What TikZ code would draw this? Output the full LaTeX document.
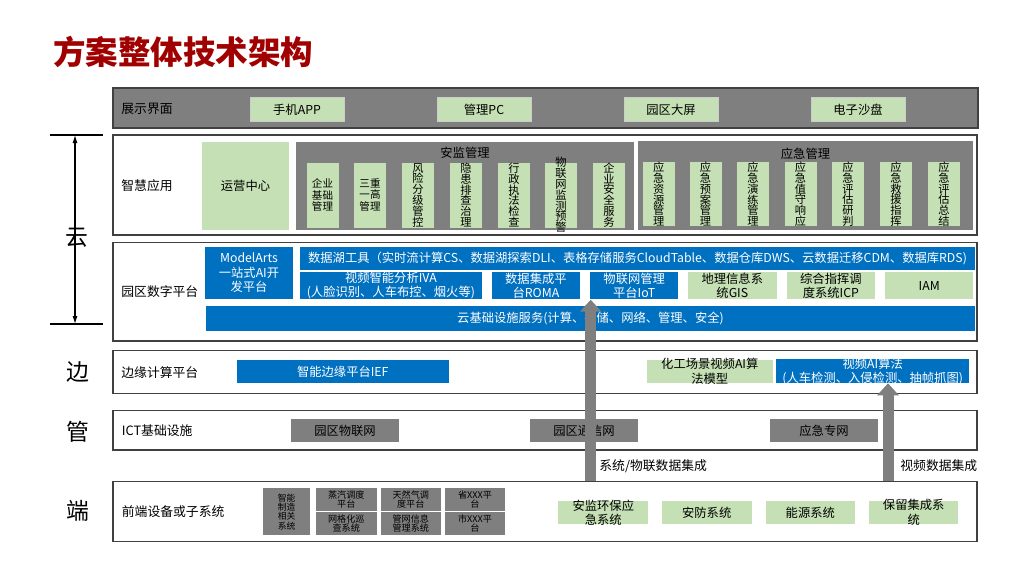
\documentclass[tikz,border=0pt]{standalone}
\usepackage{fontspec}
\setmainfont{Noto Sans CJK SC}
\usetikzlibrary{arrows,arrows.meta,positioning}

\definecolor{ablue}{HTML}{0070C0}
\definecolor{agreen}{HTML}{C5E0B4}
\definecolor{agray}{HTML}{7F7F7F}
\definecolor{ared}{HTML}{A00000}

\tikzset{
  boxsize/.style 2 args={minimum width=#1*0.02cm, minimum height=#2*0.02cm},
  layer/.style={draw=black!75, fill=white, line width=0.7pt, inner sep=0pt},
  layertext/.style={anchor=west, inner sep=0pt, font=\fontsize{7.3}{8}\selectfont},
  greenbox/.style={fill=agreen, inner sep=0pt, align=center, font=\fontsize{7}{8.2}\selectfont},
  bluebox/.style={fill=ablue, text=white, inner sep=0pt, align=center, font=\fontsize{7}{8.2}\selectfont},
  graybox/.style={fill=agray, inner sep=0pt, align=center, font=\fontsize{7}{8.2}\selectfont},
  subbox/.style={greenbox, draw=black!50, line width=0.3pt, boxsize={33}{66},
    font={\fontsize{6.4}{6.15}\selectfont\lineskiplimit=-5pt}},
  tinybox/.style={graybox, font={\fontsize{5.2}{5}\selectfont\lineskiplimit=-5pt}},
  overtext/.style={inner sep=0pt, align=center, font=\fontsize{7}{8}\selectfont},
  sidechar/.style={inner sep=0pt, font=\fontsize{13}{13}\selectfont},
  flow/.style={draw=agray, line width=0.22cm, -{Triangle[width=0.42cm,length=0.24cm]}}
}

\begin{document}
\begin{tikzpicture}[x=0.02cm, y=-0.02cm]
\useasboundingbox (0,0) rectangle (1024,576);

% title
\node[anchor=west, inner sep=0pt, text=ared, font=\fontsize{18.5}{18.5}\selectfont\bfseries] (title) at (53,52) {方案整体技术架构};

% layers
\node[layer, fill=agray, boxsize={865}{40}] (show) at (545.5,108) {};
\node[layer, boxsize={864}{100}] (smart) at (545,185) {};
\node[layer, boxsize={864}{98.5}] (park) at (545,291.8) {};
\node[layer, boxsize={864}{42.5}] (edge) at (545,372) {};
\node[layer, boxsize={864}{39.3}] (ict) at (545,430.3) {};
\node[layer, boxsize={864}{60}] (front) at (545,511.7) {};

\node[layertext] (show-l) at (121,109) {展示界面};
\node[layertext] (smart-l) at (121,186) {智慧应用};
\node[layertext] (park-l) at (121,292) {园区数字平台};
\node[layertext] (edge-l) at (121,372.7) {边缘计算平台};
\node[layertext] (ict-l) at (121.5,430.7) {ICT基础设施};
\node[layertext] (front-l) at (121.5,511.7) {前端设备或子系统};

% cloud / edge / pipe / end
\coordinate (cloudtop) at (75,135);
\coordinate (cloudbot) at (75,324);
\draw[line width=0.6pt] ([xshift=-0.5cm]cloudtop) -- ([xshift=0.56cm]cloudtop);
\draw[line width=0.6pt] ([xshift=-0.5cm]cloudbot) -- ([xshift=0.56cm]cloudbot);
\draw[line width=0.6pt, {Latex[length=0.16cm,width=0.1cm]}-{Latex[length=0.16cm,width=0.1cm]}] (cloudtop) -- (cloudbot);
\node[sidechar] (yun) at (77,238) {云};
\node[sidechar] (bian) at (78,372) {边};
\node[sidechar] (guan) at (78,432) {管};
\node[sidechar] (duan) at (78,511) {端};

% show
\node[greenbox, draw=black!20, line width=0.3pt, boxsize={94}{24.5}] (app) at (297,109.5) {手机APP};
\node[greenbox, draw=black!20, line width=0.3pt, boxsize={94}{24.5}] (pc) at (484,109.5) {管理PC};
\node[greenbox, draw=black!20, line width=0.3pt, boxsize={94}{24.5}] (screen) at (671,109.5) {园区大屏};
\node[greenbox, draw=black!20, line width=0.3pt, boxsize={94}{24.5}] (sand) at (858,109.5) {电子沙盘};

% smart applications
\node[greenbox, boxsize={87}{88}] (ops) at (245.5,186) {运营中心};
\node[graybox, boxsize={338}{88.3}] (safety) at (465,186) {};
\node[overtext] (safety-t) at (465,153) {安监管理};
\node[subbox, font={\fontsize{6}{6.6}\selectfont}] (s1) at (322.5,195) {企业\\基础\\管理};
\node[subbox, font={\fontsize{6}{6.6}\selectfont}] (s2) at (370,195) {三重\\一高\\管理};
\node[subbox] (s3) at (418,195) {风\\险\\分\\级\\管\\控};
\node[subbox] (s4) at (466,195) {隐\\患\\排\\查\\治\\理};
\node[subbox] (s5) at (514,195) {行\\政\\执\\法\\检\\查};
\node[subbox] (s6) at (561,195) {};
\node[overtext, font={\fontsize{6.4}{6.15}\selectfont\lineskiplimit=-5pt}] (s6-t) at (s6) {物\\联\\网\\监\\测\\预\\警};
\node[subbox] (s7) at (609,195) {企\\业\\安\\全\\服\\务};

\node[graybox, boxsize={335}{89}] (emerg) at (805.5,185.5) {};
\node[overtext] (emerg-t) at (805.5,154) {应急管理};
\node[subbox, boxsize={33}{65}] (e1) at (658.7,194.2) {应\\急\\资\\源\\管\\理};
\node[subbox, boxsize={33}{65}] (e2) at (705.5,194.2) {应\\急\\预\\案\\管\\理};
\node[subbox, boxsize={33}{65}] (e3) at (753,194.2) {应\\急\\演\\练\\管\\理};
\node[subbox, boxsize={33}{65}] (e4) at (800.5,194.2) {应\\急\\值\\守\\响\\应};
\node[subbox, boxsize={33}{65}] (e5) at (848,194.2) {应\\急\\评\\估\\研\\判};
\node[subbox, boxsize={33}{65}] (e6) at (896,194.2) {应\\急\\救\\援\\指\\挥};
\node[subbox, boxsize={33}{65}] (e7) at (944,194.2) {应\\急\\评\\估\\总\\结};

% park digital platform
\node[bluebox, boxsize={88}{52.6}] (ma) at (249,273) {ModelArts\\一站式AI开\\发平台};
\node[bluebox, boxsize={675}{23.3}] (lake) at (637.5,258.3) {数据湖工具（实时流计算CS、数据湖探索DLI、表格存储服务CloudTable、数据仓库DWS、云数据迁移CDM、数据库RDS)};
\node[bluebox, boxsize={181.7}{27.3}] (iva) at (390.9,285.7) {视频智能分析IVA\\(人脸识别、人车布控、烟火等)};
\node[bluebox, boxsize={88.3}{27.3}] (roma) at (535.9,285.7) {数据集成平\\台ROMA};
\node[bluebox, boxsize={88.3}{27.3}] (iot) at (634.2,285.7) {物联网管理\\平台IoT};
\node[greenbox, boxsize={88.7}{27.3}] (gis) at (732.3,285.7) {地理信息系\\统GIS};
\node[greenbox, boxsize={88.3}{27.3}] (icp) at (830.9,285.7) {综合指挥调\\度系统ICP};
\node[greenbox, boxsize={88.3}{27.3}] (iam) at (929.2,285.7) {IAM};
\node[bluebox, boxsize={769}{24.7}] (iaas) at (590.5,318.3) {云基础设施服务(计算、存储、网络、管理、安全)};

% edge computing
\node[bluebox, boxsize={212.3}{23.3}] (ief) at (342.8,371.7) {智能边缘平台IEF};
\node[greenbox, boxsize={125.7}{22.7}] (chem) at (709.8,371.3) {};
\node[overtext] (chem-t) at (chem) {化工场景视频AI算\\法模型};
\node[bluebox, boxsize={193.3}{24}] (vai) at (872.7,371.3) {};
\node[overtext, text=white] (vai-t) at (vai) {视频AI算法\\(人车检测、入侵检测、抽帧抓图)};

% ICT
\node[graybox, boxsize={108}{23.5}] (iotnet) at (345,430.7) {园区物联网};
\node[graybox, boxsize={108}{23.5}] (comm) at (584,430.7) {园区通信网};
\node[graybox, boxsize={108}{23.5}] (emnet) at (824,430.7) {应急专网};

% front end
\node[tinybox, boxsize={46.7}{46.7}, font={\fontsize{5}{5.3}\selectfont\lineskiplimit=-5pt}] (mfg) at (286.7,511.7) {智能\\制造\\相关\\系统};
\node[tinybox, boxsize={60.7}{22.3}] (steam) at (346.3,499.5) {蒸汽调度\\平台};
\node[tinybox, boxsize={60.7}{22.7}] (grid) at (346.3,523.7) {网格化巡\\查系统};
\node[tinybox, boxsize={60.3}{22.3}] (gas) at (410.8,499.5) {天然气调\\度平台};
\node[tinybox, boxsize={60.3}{22.7}] (pipe) at (410.8,523.7) {管网信息\\管理系统};
\node[tinybox, boxsize={60}{22.3}] (prov) at (475,499.5) {省XXX平\\台};
\node[tinybox, boxsize={60}{22.7}] (city) at (475,523.7) {市XXX平\\台};

\node[greenbox, boxsize={90}{23.3}] (env) at (603.3,512.3) {};
\node[overtext] (env-t) at (env) {安监环保应\\急系统};
\node[greenbox, boxsize={90}{23.3}] (sec) at (706.7,512.3) {安防系统};
\node[greenbox, boxsize={89.3}{23.3}] (energy) at (810.3,512.3) {能源系统};
\node[greenbox, boxsize={89.3}{23.3}] (resv) at (913.7,512.3) {};
\node[overtext] (resv-t) at (resv) {保留集成系\\统};

% data integration arrows
\coordinate (vaiin) at (888,383.3);
\draw[flow] ([xshift=0.02cm]iot.south west |- front.north) -- ([xshift=0.02cm]iot.south west);
\draw[flow] (vaiin |- front.north) -- (vaiin);
\node[anchor=west, inner sep=0pt, font=\fontsize{7.3}{8}\selectfont] (sysdata) at (599,466) {系统/物联数据集成};
\node[anchor=west, inner sep=0pt, font=\fontsize{7.3}{8}\selectfont] (viddata) at (900,466) {视频数据集成};
\end{tikzpicture}
\end{document}
